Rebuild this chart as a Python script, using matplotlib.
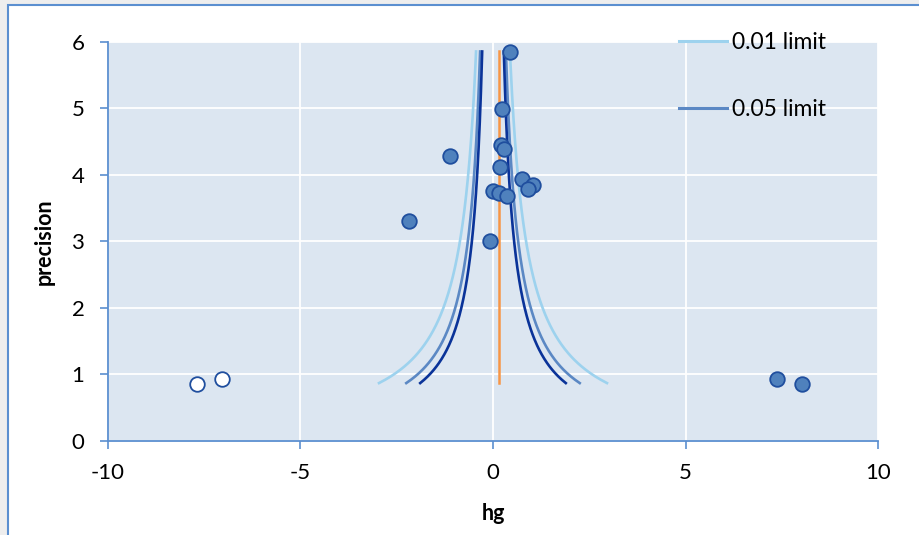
import numpy as np
import matplotlib
matplotlib.use("Agg")
import matplotlib.pyplot as plt
from matplotlib.patches import Rectangle
from matplotlib.lines import Line2D

plt.rcParams['font.family'] = ['Lato', 'DejaVu Sans']
plt.rcParams['axes.unicode_minus'] = False

# observed studies
hg = [0.44, 0.24, 0.20, 0.29, -1.11, 0.18, 0.76, 1.05, 0.90, 0.01, 0.16, 0.36, -2.19, -0.07, 7.37, 8.02]
precision = [5.84, 4.98, 4.44, 4.39, 4.28, 4.11, 3.94, 3.85, 3.78, 3.75, 3.73, 3.68, 3.30, 3.00, 0.93, 0.86]
# imputed (filled) studies
hg_fill = [-7.68, -7.04]
precision_fill = [0.86, 0.93]

pooled = 0.16
prec_min, prec_max = 0.87, 5.85
z_001 = 2.576
z_005 = 1.96
z_010 = 1.645

xticks = [-10, -5, 0, 5, 10]
yticks = [0, 1, 2, 3, 4, 5, 6]

W, H = 920, 535
fig = plt.figure(figsize=(W / 100, H / 100), dpi=100)
fig.patch.set_facecolor('#eeeeee')
fig.patches.append(Rectangle((8 / W, -0.1), 1.2, 1 - 5 / H + 0.1, transform=fig.transFigure,
                             facecolor='white', edgecolor='#5b8fd0', linewidth=1.5, zorder=-10))

ax = fig.add_axes([108 / W, (H - 441) / H, 770 / W, (441 - 41.5) / H])
ax.set_zorder(5)
ax.set_facecolor('#dce6f1')
ax.set_xlim(-10, 10)
ax.set_ylim(0, 6)
ax.set_xticks(xticks)
ax.set_yticks(yticks)
ax.grid(True, color='white', linewidth=1.3)
ax.set_axisbelow(True)
for s in ['top', 'right']:
    ax.spines[s].set_visible(False)
for s in ['left', 'bottom']:
    ax.spines[s].set_color('#5b8fd0')
    ax.spines[s].set_linewidth(1.3)
ax.tick_params(axis='both', colors='#5b8fd0', labelcolor='black', labelsize=16, length=6, width=1.2)
ax.tick_params(axis='y', pad=11)
ax.tick_params(axis='x', pad=10)
ax.set_xlabel('hg', fontsize=15.5, fontweight='bold', labelpad=14)
ax.set_ylabel('precision', fontsize=15.5, fontweight='bold', labelpad=12)

p = np.linspace(prec_min, prec_max, 300)
c1, c2, c3 = '#9dd2ee', '#5b88c4', '#0a3399'
ax.plot(z_001 / p, p, color=c1, lw=1.9)
ax.plot(-z_001 / p, p, color=c1, lw=1.9)
ax.plot(z_005 / p, p, color=c2, lw=1.9)
ax.plot(-z_005 / p, p, color=c2, lw=1.9)
ax.plot(z_010 / p, p, color=c3, lw=1.9)
ax.plot(-z_010 / p, p, color=c3, lw=1.9)
ax.plot([pooled, pooled], [prec_min, prec_max], color='#f79646', lw=1.8)

ax.plot(hg, precision, 'o', ms=10.5, mfc='#4f81bd', mec='#1f4e9e', mew=1.3, zorder=5)
ax.plot(hg_fill, precision_fill, 'o', ms=10.5, mfc='white', mec='#1f4e9e', mew=1.3, zorder=5)

handles = [Line2D([], [], color=c1, lw=2.2), Line2D([], [], color=c2, lw=2.2)]
leg = ax.legend(handles, ['0.01 limit', '0.05 limit'], loc='upper left',
                bbox_to_anchor=(679 / W, 1 - 32 / H), bbox_transform=fig.transFigure,
                frameon=False, fontsize=16.5, handlelength=2.1, handletextpad=0.2,
                labelspacing=2.0, borderpad=0, borderaxespad=0)
leg.set_zorder(10)
leg.set_clip_on(False)

fig.savefig('out.png', dpi=100, facecolor=fig.get_facecolor())
